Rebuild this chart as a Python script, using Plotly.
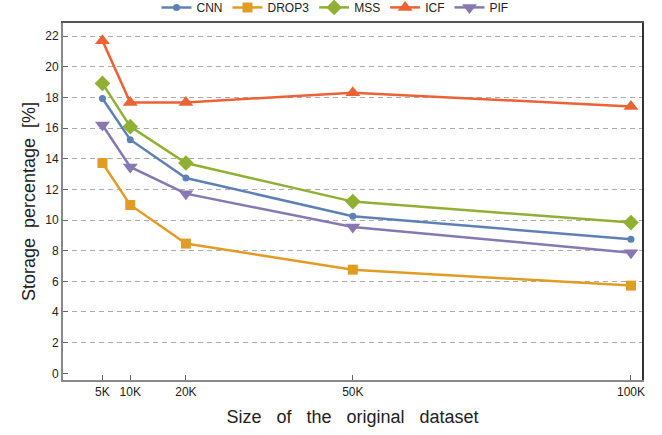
import plotly.graph_objects as go

sizes_k = [5, 10, 20, 50, 100]
size_labels = ["5K", "10K", "20K", "50K", "100K"]
y_ticks = [0, 2, 4, 6, 8, 10, 12, 14, 16, 18, 20, 22]
grid_ticks = [2, 4, 6, 8, 10, 12, 14, 16, 18, 20, 22]

cnn = [17.93, 15.24, 12.74, 10.24, 8.74]
drop3 = [13.72, 10.98, 8.46, 6.76, 5.72]
mss = [18.91, 16.09, 13.72, 11.20, 9.83]
icf = [21.70, 17.67, 17.67, 18.30, 17.41]
pif = [16.20, 13.46, 11.72, 9.54, 7.87]

series = [
    ("CNN", cnn, "#5E81B5", "circle", 7),
    ("DROP3", drop3, "#E19C24", "square", 10),
    ("MSS", mss, "#8FB032", "diamond", 12),
    ("ICF", icf, "#EB6235", "triangle-up", 13),
    ("PIF", pif, "#8778B3", "triangle-down", 13),
]

FONT = "Liberation Sans, Arial, sans-serif"
xr = [-2.09, 101.98]
yr = [-0.437, 22.85]
SPX = "\u00a0\u00a0 "
SPY = "\u00a0 "

fig = go.Figure()
# helper trace to activate overlay axes (frame + grid)
fig.add_trace(go.Scatter(x=[None], y=[None], xaxis="x2", yaxis="y2",
                         showlegend=False, hoverinfo="skip", mode="lines"))
for name, vals, color, sym, sz in series:
    fig.add_trace(go.Scatter(
        x=sizes_k, y=vals, name=name, mode="lines+markers",
        line=dict(color=color, width=2.5),
        marker=dict(symbol=sym, size=sz, color=color, line=dict(width=0)),
    ))

fig.update_layout(
    width=662, height=435,
    margin=dict(l=63.3, r=20.3, t=22.7, b=55, autoexpand=False),
    paper_bgcolor="white", plot_bgcolor="white",
    font=dict(family=FONT, size=12, color="#222"),
    showlegend=True,
    legend=dict(orientation="h", x=0.506, xanchor="center", xref="container",
                y=0.983, yanchor="middle", yref="container",
                font=dict(size=12, color="#222"), bgcolor="rgba(0,0,0,0)",
                itemwidth=30, tracegroupgap=0),
    xaxis=dict(range=xr, tickvals=sizes_k, ticktext=size_labels, automargin=False,
               showgrid=False, zeroline=False, showline=True,
               linecolor="#888", linewidth=2, ticks="inside", ticklen=5,
               tickcolor="#666", tickwidth=1,
               tickfont=dict(size=12, color="#222"),
               title=dict(text=SPX.join(["Size", "of", "the", "original", "dataset"]),
                          font=dict(size=18, color="#222"), standoff=12)),
    yaxis=dict(range=yr, tickvals=y_ticks, automargin=False,
               showgrid=False, zeroline=False, showline=True,
               linecolor="#888", linewidth=2, ticks="inside", ticklen=5,
               tickcolor="#666", tickwidth=1,
               tickfont=dict(size=12, color="#222"),
               title=dict(text=SPY.join(["Storage", "percentage", "[%]"]),
                          font=dict(size=18, color="#222"), standoff=5)),
    xaxis2=dict(overlaying="x", side="top", range=xr, showgrid=False, automargin=False,
                zeroline=False, showline=True, linecolor="#555", linewidth=1.5,
                showticklabels=False, ticks=""),
    yaxis2=dict(overlaying="y", side="right", range=yr, tickvals=grid_ticks, automargin=False,
                showgrid=True, gridcolor="#aaaaaa", gridwidth=1, griddash="5px,4px",
                zeroline=False, showline=True, linecolor="#333", linewidth=1.5,
                showticklabels=False, ticks=""),
)

# remove the browser's default 8px page margin so the 662x435 figure fills the window
fig.write_html("out.html", config={"displayModeBar": False},
               post_script="document.body.style.margin='0px';")
